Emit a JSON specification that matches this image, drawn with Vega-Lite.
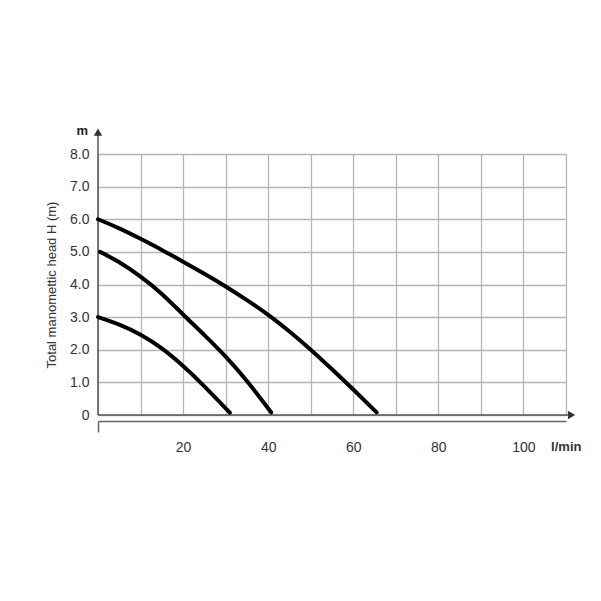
{
  "$schema": "https://vega.github.io/schema/vega-lite/v6.json",
  "width": 468,
  "height": 261,
  "autosize": "none",
  "padding": {"left": 98, "top": 154, "right": 35, "bottom": 186},
  "background": "white",
  "config": {
    "view": {"stroke": null},
    "font": "Liberation Sans"
  },
  "datasets": {
    "curves": [
      {"pump": "A", "q": 0, "h": 6.0},
      {"pump": "A", "q": 5, "h": 5.72},
      {"pump": "A", "q": 10, "h": 5.4},
      {"pump": "A", "q": 15, "h": 5.06},
      {"pump": "A", "q": 20, "h": 4.7},
      {"pump": "A", "q": 25, "h": 4.33},
      {"pump": "A", "q": 30, "h": 3.94},
      {"pump": "A", "q": 35, "h": 3.52},
      {"pump": "A", "q": 40, "h": 3.07},
      {"pump": "A", "q": 45, "h": 2.56},
      {"pump": "A", "q": 50, "h": 2.0},
      {"pump": "A", "q": 55, "h": 1.4},
      {"pump": "A", "q": 60, "h": 0.78},
      {"pump": "A", "q": 65.5, "h": 0.08},
      {"pump": "B", "q": 0.5, "h": 5.0},
      {"pump": "B", "q": 5, "h": 4.68},
      {"pump": "B", "q": 10, "h": 4.24},
      {"pump": "B", "q": 15, "h": 3.71},
      {"pump": "B", "q": 20, "h": 3.08},
      {"pump": "B", "q": 25, "h": 2.45},
      {"pump": "B", "q": 30, "h": 1.79},
      {"pump": "B", "q": 35, "h": 1.04},
      {"pump": "B", "q": 40.7, "h": 0.08},
      {"pump": "C", "q": 0, "h": 3.0},
      {"pump": "C", "q": 5, "h": 2.77},
      {"pump": "C", "q": 10, "h": 2.46},
      {"pump": "C", "q": 15, "h": 2.04},
      {"pump": "C", "q": 20, "h": 1.5},
      {"pump": "C", "q": 25, "h": 0.88},
      {"pump": "C", "q": 31, "h": 0.07}
    ]
  },
  "layer": [
    {
      "data": {"values": [{}]},
      "mark": {"type": "rule", "color": "#555", "strokeWidth": 1.5},
      "encoding": {
        "x": {"datum": 0, "type": "quantitative"},
        "y": {"datum": 0, "type": "quantitative"},
        "y2": {"datum": 8.67}
      }
    },
    {
      "data": {"values": [{}]},
      "mark": {"type": "rule", "color": "#555", "strokeWidth": 1.5},
      "encoding": {
        "x": {"datum": 0, "type": "quantitative"},
        "x2": {"datum": 110.9},
        "y": {"datum": 0, "type": "quantitative"}
      }
    },
    {
      "data": {"values": [{}]},
      "mark": {"type": "point", "shape": "triangle-up", "filled": true, "color": "#333", "size": 70, "opacity": 1},
      "encoding": {
        "x": {"datum": 0, "type": "quantitative"},
        "y": {"datum": 8.67, "type": "quantitative"}
      }
    },
    {
      "data": {"values": [{}]},
      "mark": {"type": "point", "shape": "triangle-right", "filled": true, "color": "#333", "size": 70, "opacity": 1},
      "encoding": {
        "x": {"datum": 111.3, "type": "quantitative"},
        "y": {"datum": 0, "type": "quantitative"}
      }
    },
    {
      "data": {"values": [{}]},
      "mark": {"type": "text", "text": "m", "align": "right", "baseline": "middle", "dx": -10, "dy": -1, "fontSize": 13, "fontWeight": "bold", "color": "#222"},
      "encoding": {
        "x": {"datum": 0, "type": "quantitative"},
        "y": {"datum": 8.67, "type": "quantitative"}
      }
    },
    {
      "data": {"values": [{}]},
      "mark": {"type": "text", "text": "l/min", "align": "left", "baseline": "middle", "dy": 32, "fontSize": 13, "fontWeight": "bold", "color": "#333"},
      "encoding": {
        "x": {"datum": 106.5, "type": "quantitative"},
        "y": {"datum": 0, "type": "quantitative"}
      }
    },
    {
      "data": {"name": "curves"},
      "mark": {"type": "line", "color": "black", "strokeWidth": 4, "strokeCap": "round", "interpolate": "natural"},
      "encoding": {
        "x": {
          "field": "q",
          "type": "quantitative",
          "scale": {"domain": [0, 110], "nice": false, "zero": false},
          "axis": {
            "values": [0, 10, 20, 30, 40, 50, 60, 70, 80, 90, 100, 110],
            "labelExpr": "datum.value > 0 && datum.value % 20 == 0 ? datum.label : ''",
            "labelOverlap": false,
            "offset": 6,
            "domain": true,
            "domainColor": "#666",
            "domainWidth": 1.5,
            "ticks": true,
            "tickSize": 11,
            "tickColor": "#666",
            "tickWidth": 1.5,
            "tickOpacity": {"condition": {"test": "datum.value == 0", "value": 1}, "value": 0},
            "grid": true,
            "gridColor": "#b4b4b4",
            "gridWidth": 1.3,
            "labelFontSize": 14,
            "labelColor": "#333",
            "labelPadding": 8,
            "title": null
          }
        },
        "y": {
          "field": "h",
          "type": "quantitative",
          "scale": {"domain": [0, 8], "nice": false, "zero": false},
          "axis": {
            "values": [0, 1, 2, 3, 4, 5, 6, 7, 8],
            "tickCount": 9,
            "labelExpr": "datum.value == 0 ? '0' : format(datum.value, '.1f')",
            "labelOverlap": false,
            "domain": false,
            "ticks": false,
            "grid": true,
            "gridColor": "#b4b4b4",
            "gridWidth": 1.3,
            "labelFontSize": 14,
            "labelColor": "#333",
            "labelPadding": 9,
            "title": "Total manomettic head H  (m)",
            "titleFontSize": 13,
            "titleFontWeight": "normal",
            "titleColor": "#333",
            "titlePadding": 11
          }
        },
        "detail": {"field": "pump"}
      }
    }
  ]
}
